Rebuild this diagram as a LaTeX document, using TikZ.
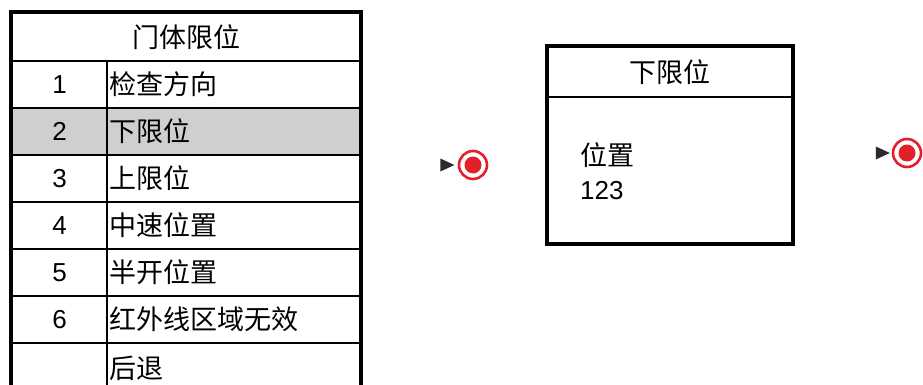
\documentclass[tikz,border=0pt]{standalone}
\usepackage{fontspec}
\setmainfont{Liberation Sans}
\newfontfamily\cjk{Noto Sans CJK SC}
\usetikzlibrary{shapes.geometric}
\definecolor{rowgray}{HTML}{D0CFD0}
\definecolor{markred}{HTML}{E3202A}
\definecolor{tridark}{HTML}{2A2A2A}
\tikzset{
  txt/.style={font=\fontsize{27}{31}\selectfont\cjk},
  numcell/.style={draw, line width=2pt, minimum width=95pt, minimum height=47pt, inner sep=0pt, font=\fontsize{26}{30}\selectfont},
  txtcell/.style={draw, line width=2pt, minimum width=253pt, minimum height=47pt, inner xsep=2pt, inner ysep=0pt, text width=249pt, align=left, txt},
  outerline/.style={line width=3.5pt},
  ring/.style={circle, draw=markred, line width=2.6pt, fill=white, minimum size=28pt, inner sep=0pt},
  dot/.style={circle, fill=markred, minimum size=17pt, inner sep=0pt},
  tri/.style={isosceles triangle, isosceles triangle stretches, fill=tridark, minimum width=13pt, minimum height=14pt, inner sep=0pt},
}
\begin{document}
\begin{tikzpicture}[x=1pt,y=-1pt]
\useasboundingbox (0,0) rectangle (923,385);
\clip (0,0) rectangle (923,385);
% table
\node[draw, line width=2pt, minimum width=348pt, minimum height=48pt, inner sep=0pt, txt] (hdr) at (186,37) {门体限位};
\node[numcell] (n1) at (59.5,84.5) {1};
\node[txtcell] (t1) at (233.5,84.5) {检查方向};
\node[numcell, fill=rowgray] (n2) at (59.5,131.5) {2};
\node[txtcell, fill=rowgray] (t2) at (233.5,131.5) {下限位};
\node[numcell] (n3) at (59.5,178.5) {3};
\node[txtcell] (t3) at (233.5,178.5) {上限位};
\node[numcell] (n4) at (59.5,225.5) {4};
\node[txtcell] (t4) at (233.5,225.5) {中速位置};
\node[numcell] (n5) at (59.5,272.5) {5};
\node[txtcell] (t5) at (233.5,272.5) {半开位置};
\node[numcell] (n6) at (59.5,319.5) {6};
\node[txtcell] (t6) at (233.5,319.5) {红外线区域无效};
\node[numcell, minimum height=60pt] (n7) at (59.5,373) {};
\node[txtcell, minimum height=60pt, text depth=11pt] (t7) at (233.5,373) {后退};
\draw[outerline] (n7.south west) -- (hdr.north west) -- (hdr.north east) -- (t7.south east);
% middle state box
\node[draw, line width=2pt, minimum width=244pt, minimum height=50pt, inner sep=0pt, txt] (bt) at (670,72) {下限位};
\node[draw, line width=2pt, minimum width=244pt, minimum height=146pt, inner sep=0pt] (bb) at (670,170) {};
\draw[outerline] (bt.north west) rectangle (bb.south east);
\node[txt, anchor=west, inner sep=0pt] (pos) at (580,155) {位置};
\node[anchor=west, inner sep=0pt, font=\fontsize{26}{30}\selectfont] (val) at (580,191) {123};
% markers
\node[tri] (tr1) at (444.5,165) {};
\node[ring] (c1) at (473,165) {};
\node[dot] (d1) at (c1.center) {};
\node[tri] (tr2) at (880,153) {};
\node[ring] (c2) at (907,153) {};
\node[dot] (d2) at (c2.center) {};
\end{tikzpicture}
\end{document}
